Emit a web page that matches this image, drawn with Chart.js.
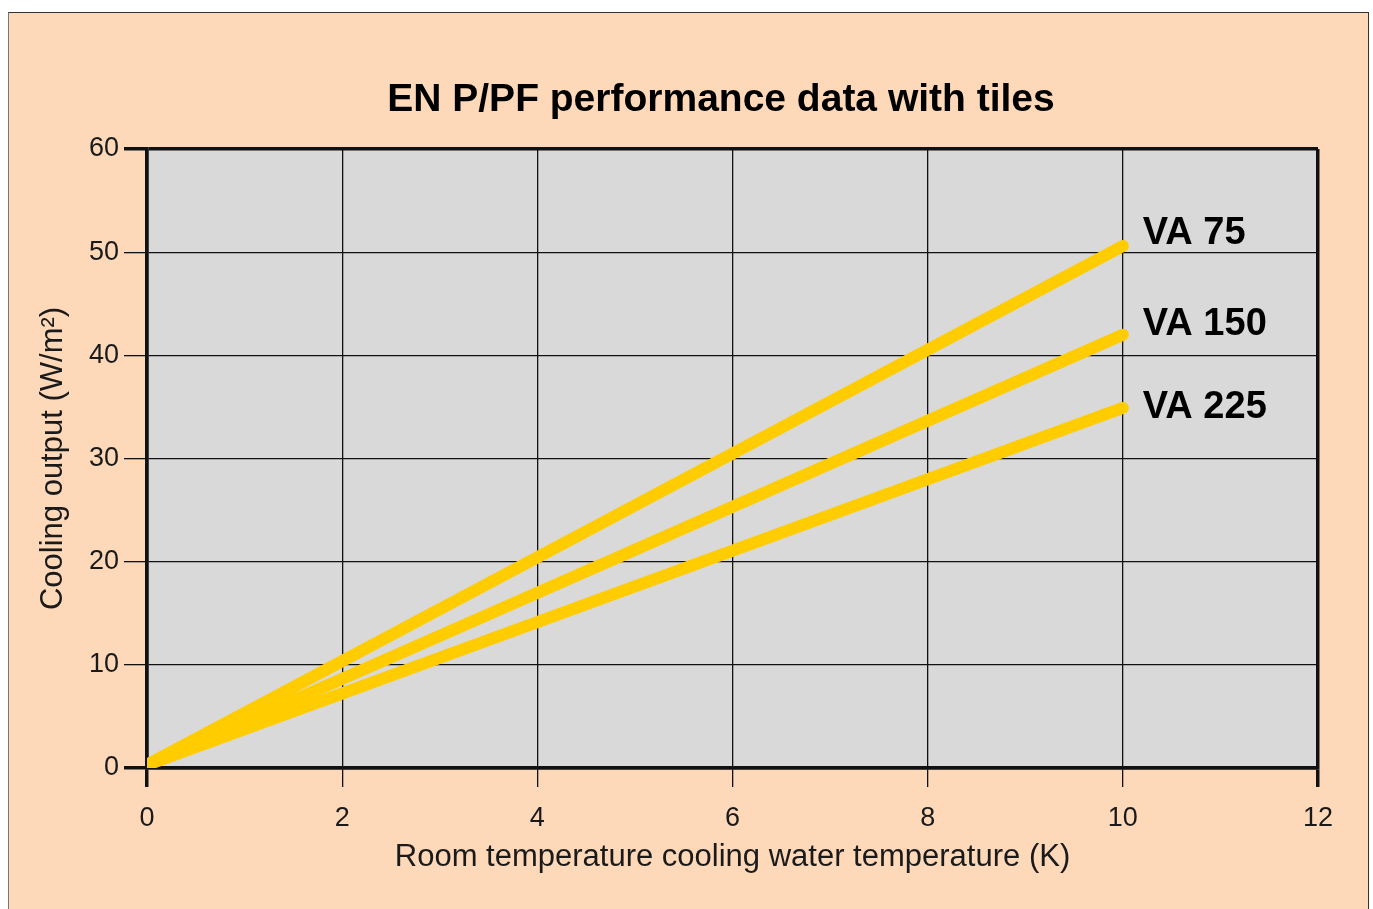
<!DOCTYPE html>
<html>
<head>
<meta charset="utf-8">
<script src="https://cdn.jsdelivr.net/npm/chart.js@4"></script>
<style>
  body { margin: 0; background: #fff; }
  #frame {
    position: absolute; left: 8px; top: 12px; width: 1359px; height: 910px;
    background: #fdd9ba; border: 1px solid #333; border-bottom: none; border-left-color: #777;
  }
  #myChart { position: absolute; left: 0; top: 0; }
</style>
</head>
<body>
<div id="frame"></div>
<canvas id="myChart" width="1373" height="909"></canvas>
<script>
var xValues = [0, 10];
var va75 = [0.3, 50.6];
var va150 = [0.3, 42];
var va225 = [0.3, 34.9];
var seriesNames = ['VA 75', 'VA 150', 'VA 225'];
var xTicks = [0, 2, 4, 6, 8, 10, 12];
var yTicks = [0, 10, 20, 30, 40, 50, 60];

var FONT = "'Liberation Sans', Arial, Helvetica, sans-serif";
Chart.defaults.font.family = FONT;
Chart.defaults.color = '#1a1a1a';

function pts(ys) {
    return xValues.map(function(x, i) { return { x: x, y: ys[i] }; });
}

// plot background, title and end labels
var extras = {
    id: 'extras',
    beforeDraw: function(chart) {
        var a = chart.chartArea, c = chart.ctx;
        c.save();
        c.fillStyle = '#d9d9d9';
        c.fillRect(a.left, a.top, a.right - a.left, a.bottom - a.top);
        c.restore();
    },
    afterDatasetsDraw: function(chart) {
        var c = chart.ctx;
        var dy = [-12, -10, 0];
        c.save();
        c.font = 'bold 38px ' + FONT;
        c.fillStyle = '#000';
        c.textBaseline = 'middle';
        chart.data.datasets.forEach(function(ds, i) {
            var meta = chart.getDatasetMeta(i);
            var p = meta.data[meta.data.length - 1];
            c.fillText(ds.label, p.x + 20, p.y + dy[i]);
        });
        c.font = 'bold 39px ' + FONT;
        c.textAlign = 'center';
        c.fillText('EN P/PF performance data with tiles', 721, 100);
        c.restore();
    }
};

function gridWidth(ends) {
    return function(ctx) {
        return ctx.tick && ends.indexOf(ctx.tick.value) >= 0 ? 3.5 : 1.3;
    };
}

var ctx = document.getElementById('myChart').getContext('2d');
var myChart = new Chart(ctx, {
    type: 'line',
    data: {
        datasets: [va75, va150, va225].map(function(ys, i) {
            return {
                label: seriesNames[i],
                data: pts(ys),
                borderColor: '#ffcc00',
                borderWidth: 12,
                borderCapStyle: 'round',
                pointRadius: 0,
                clip: 0
            };
        })
    },
    options: {
        responsive: false,
        animation: false,
        layout: { padding: { left: 20, top: 149, right: 55, bottom: 33.4 } },
        plugins: { legend: { display: false }, tooltip: { enabled: false } },
        scales: {
            x: {
                type: 'linear', min: 0, max: 12,
                afterBuildTicks: function(s) { s.ticks = xTicks.map(function(v) { return { value: v }; }); },
                afterFit: function(s) { s.height = 107.6; },
                ticks: { font: { size: 27 }, padding: 15, color: '#1a1a1a' },
                grid: { color: '#111', lineWidth: gridWidth([0, 12]), tickLength: 19 },
                border: { color: '#111', width: 3.5 },
                title: {
                    display: true, text: 'Room temperature cooling water temperature (K)',
                    font: { size: 31 }, padding: { top: 0, bottom: 0 }, color: '#1a1a1a'
                }
            },
            y: {
                min: 0, max: 60,
                afterBuildTicks: function(s) { s.ticks = yTicks.map(function(v) { return { value: v }; }); },
                afterFit: function(s) { s.width = 127; },
                ticks: { font: { size: 27 }, padding: 5, color: '#1a1a1a' },
                grid: { color: '#111', lineWidth: gridWidth([0, 60]), tickLength: 23 },
                border: { color: '#111', width: 3.5 },
                title: {
                    display: true, text: 'Cooling output (W/m²)',
                    font: { size: 31 }, padding: { top: 14.4, bottom: 0 }, color: '#1a1a1a'
                }
            }
        }
    },
    plugins: [extras]
});
</script>
</body>
</html>
